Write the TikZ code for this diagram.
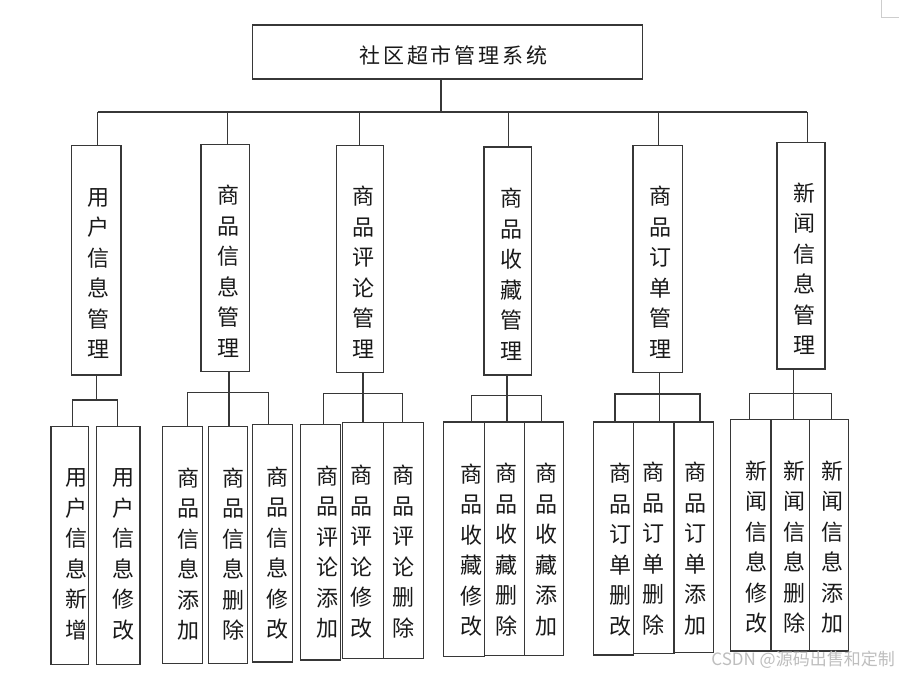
\documentclass[tikz,border=0pt]{standalone}
\usepackage{fontspec}
\setmainfont{Noto Sans CJK SC}
\usetikzlibrary{calc}
\definecolor{lncol}{RGB}{55,55,55}
\definecolor{txcol}{RGB}{25,25,25}
\definecolor{wmcol}{RGB}{190,190,190}
\definecolor{cornercol}{RGB}{205,205,205}
\newcommand{\rs}{\hspace{2.8pt}}
\begin{document}
\begin{tikzpicture}[x=1pt,y=-1pt,
  box/.style={draw=lncol, line width=1.3pt, inner sep=0pt},
  link/.style={draw=lncol, line width=1.3pt},
  vt/.style={text=txcol, font=\fontsize{22}{30.5}\selectfont, align=center, inner sep=0pt},
  rtext/.style={text=txcol, font=\fontsize{21}{21}\selectfont, inner sep=0pt}]
\fill[white] (0,0) rectangle (899,673);
\useasboundingbox (0,0) rectangle (899,673);

% corner mark
\draw[draw=cornercol, line width=1pt] (881.3,0) -- (881.3,17) -- (899,17);

% root
\node[box, minimum width=390pt, minimum height=54pt] (root) at (447.7,52) {};
\node[rtext] (rt) at ($(root.center)+(5.6,3)$) {社\rs 区\rs 超\rs 市\rs 管\rs 理\rs 系\rs 统};

% level 2
\node[box, minimum width=49.3pt, minimum height=229.3pt] (b1) at (96.35,260.35) {};
\node[box, minimum width=48.3pt, minimum height=227pt] (b2) at (225.15,258.2) {};
\node[box, minimum width=46.6pt, minimum height=227pt] (b3) at (360,259.2) {};
\node[box, minimum width=47.3pt, minimum height=228pt] (b4) at (507.65,261) {};
\node[box, minimum width=49.3pt, minimum height=227pt] (b5) at (657.65,259.2) {};
\node[box, minimum width=48pt, minimum height=226.3pt] (b6) at (801,255.85) {};
\node[vt] (tb1) at ($(b1.center)+(2,13)$) {用\\户\\信\\息\\管\\理};
\node[vt] (tb2) at ($(b2.center)+(3,13)$) {商\\品\\信\\息\\管\\理};
\node[vt] (tb3) at ($(b3.center)+(3,13)$) {商\\品\\评\\论\\管\\理};
\node[vt] (tb4) at ($(b4.center)+(4,13)$) {商\\品\\收\\藏\\管\\理};
\node[vt] (tb5) at ($(b5.center)+(3,13)$) {商\\品\\订\\单\\管\\理};
\node[vt] (tb6) at ($(b6.center)+(3,13)$) {新\\闻\\信\\息\\管\\理};

% bus
\coordinate (bus) at (441,112);
\draw[link] (root.south -| bus) -- (bus);
\draw[link] ([xshift=1.35pt]b1.north |- bus) -- ([xshift=6.3pt]b6.north |- bus);
\draw[link] ([xshift=1.35pt]b1.north |- bus) -- ([xshift=1.35pt]b1.north);
\draw[link] ([xshift=2.5pt]b2.north |- bus) -- ([xshift=2.5pt]b2.north);
\draw[link] ([xshift=-0.7pt]b3.north |- bus) -- ([xshift=-0.7pt]b3.north);
\draw[link] ([xshift=0.65pt]b4.north |- bus) -- ([xshift=0.65pt]b4.north);
\draw[link] ([xshift=0.65pt]b5.north |- bus) -- ([xshift=0.65pt]b5.north);
\draw[link] ([xshift=6.3pt]b6.north |- bus) -- ([xshift=6.3pt]b6.north);

% level 3 boxes
\node[box, minimum width=37.7pt, minimum height=237.6pt] (c11) at (69.85,545.5) {};
\node[box, minimum width=43.3pt, minimum height=237.6pt] (c12) at (118.35,545.5) {};

\node[box, minimum width=39.6pt, minimum height=236.6pt] (c21) at (182.5,545) {};
\node[box, minimum width=39.4pt, minimum height=236.6pt] (c22) at (228,545) {};
\node[box, minimum width=39.6pt, minimum height=237.7pt] (c23) at (272.5,543.15) {};

\node[box, minimum width=40pt, minimum height=235.7pt] (c31) at (320.7,542.15) {};
\node[box, minimum width=41.4pt, minimum height=235.6pt] (c32) at (363,540.5) {};
\node[box, minimum width=39.6pt, minimum height=235.6pt] (c33) at (403.5,540.5) {};

\node[box, minimum width=40.6pt, minimum height=234.7pt] (c41) at (464,539.35) {};
\node[box, minimum width=40pt, minimum height=233.3pt] (c42) at (504.3,538.65) {};
\node[box, minimum width=39.4pt, minimum height=233.3pt] (c43) at (544,538.65) {};

\node[box, minimum width=40pt, minimum height=233pt] (c51) at (613.3,538.5) {};
\node[box, minimum width=40.7pt, minimum height=231.3pt] (c52) at (653.65,537.65) {};
\node[box, minimum width=39.3pt, minimum height=230.7pt] (c53) at (693.65,537.35) {};

\node[box, minimum width=40.7pt, minimum height=231.7pt] (c61) at (750.65,535.15) {};
\node[box, minimum width=38.7pt, minimum height=231.7pt] (c62) at (790.35,535.15) {};
\node[box, minimum width=39pt, minimum height=231.7pt] (c63) at (829.2,535.15) {};

% level 3 texts
\node[vt] (t11) at ($(c11.center)+(7,9)$) {用\\户\\信\\息\\新\\增};
\node[vt] (t12) at ($(c12.center)+(5,9)$) {用\\户\\信\\息\\修\\改};
\node[vt] (t21) at ($(c21.center)+(6,9)$) {商\\品\\信\\息\\添\\加};
\node[vt] (t22) at ($(c22.center)+(5,9)$) {商\\品\\信\\息\\删\\除};
\node[vt] (t23) at ($(c23.center)+(5,10)$) {商\\品\\信\\息\\修\\改};
\node[vt] (t31) at ($(c31.center)+(7,10)$) {商\\品\\评\\论\\添\\加};
\node[vt] (t32) at ($(c32.center)+(-2,11)$) {商\\品\\评\\论\\修\\改};
\node[vt] (t33) at ($(c33.center)+(0,11)$) {商\\品\\评\\论\\删\\除};
\node[vt] (t41) at ($(c41.center)+(7,11)$) {商\\品\\收\\藏\\修\\改};
\node[vt] (t42) at ($(c42.center)+(2,11)$) {商\\品\\收\\藏\\删\\除};
\node[vt] (t43) at ($(c43.center)+(2,11)$) {商\\品\\收\\藏\\添\\加};
\node[vt] (t51) at ($(c51.center)+(7,11)$) {商\\品\\订\\单\\删\\改};
\node[vt] (t52) at ($(c52.center)+(0,11)$) {商\\品\\订\\单\\删\\除};
\node[vt] (t53) at ($(c53.center)+(2,11)$) {商\\品\\订\\单\\添\\加};
\node[vt] (t61) at ($(c61.center)+(6,12)$) {新\\闻\\信\\息\\修\\改};
\node[vt] (t62) at ($(c62.center)+(4,12)$) {新\\闻\\信\\息\\删\\除};
\node[vt] (t63) at ($(c63.center)+(3,12)$) {新\\闻\\信\\息\\添\\加};

% level 3 connectors
% group 1
\coordinate (h1) at (0,400);
\draw[link] ([xshift=0.35pt]b1.south) -- ([xshift=0.35pt]b1.south |- h1);
\draw[link] ([xshift=2.45pt]c11.north) -- ([xshift=2.45pt]c11.north |- h1) -- ([xshift=-1pt]c12.north |- h1) -- ([xshift=-1pt]c12.north);
% group 2
\coordinate (h2) at (0,392.3);
\draw[link] ([xshift=1pt]c22.north) -- ([xshift=1pt]c22.north |- b2.south);
\draw[link] ([xshift=5.2pt]c21.north) -- ([xshift=5.2pt]c21.north |- h2) -- ([xshift=-4.2pt]c23.north |- h2) -- ([xshift=-4.2pt]c23.north);
% group 3
\coordinate (h3) at (0,393.3);
\draw[link] (c32.north) -- (c32.north |- b3.south);
\draw[link] ([xshift=2.6pt]c31.north) -- ([xshift=2.6pt]c31.north |- h3) -- ([xshift=-0.8pt]c33.north |- h3) -- ([xshift=-0.8pt]c33.north);
% group 4
\coordinate (h4) at (0,395.7);
\draw[link] ([xshift=2.7pt]c42.north) -- ([xshift=2.7pt]c42.north |- b4.south);
\draw[link] ([xshift=7.7pt]c41.north) -- ([xshift=7.7pt]c41.north |- h4) -- ([xshift=-2.3pt]c43.north |- h4) -- ([xshift=-2.3pt]c43.north);
% group 5
\coordinate (h5) at (0,394);
\draw[link] ([xshift=5.65pt]c52.north) -- ([xshift=5.65pt]c52.north |- b5.south);
\draw[link] ([xshift=1.7pt]c51.north) -- ([xshift=1.7pt]c51.north |- h5) -- ([xshift=6.35pt]c53.north |- h5) -- ([xshift=6.35pt]c53.north);
% group 6
\coordinate (h6) at (0,393.3);
\draw[link] ([xshift=3.35pt]c62.north) -- ([xshift=3.35pt]c62.north |- b6.south);
\draw[link] ([xshift=-1.35pt]c61.north) -- ([xshift=-1.35pt]c61.north |- h6) -- ([xshift=2.5pt]c63.north |- h6) -- ([xshift=2.5pt]c63.north);

% watermark
\node[text=wmcol, font=\fontsize{17}{17}\selectfont, anchor=east, inner sep=0pt] (wmk) at (895,660) {CSDN @源码出售和定制};
\end{tikzpicture}
\end{document}
